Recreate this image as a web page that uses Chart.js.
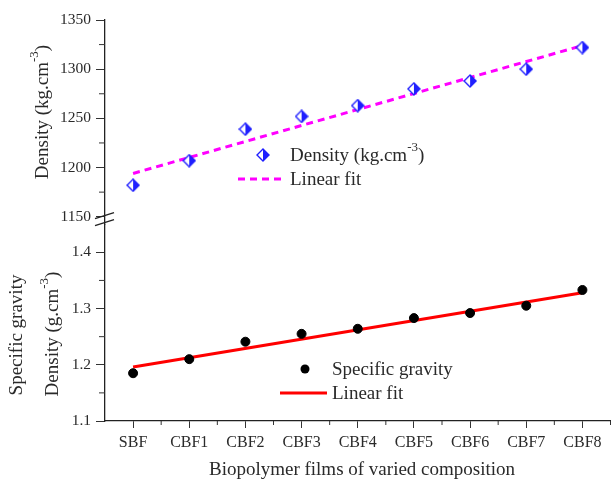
<!DOCTYPE html>
<html>
<head>
<meta charset="UTF-8">
<title>Density and specific gravity</title>
<script src="https://cdn.jsdelivr.net/npm/chart.js"></script>
<style>
  body { margin: 0; background: #fff; }
  #wrap { width: 616px; height: 486px; }
</style>
</head>
<body>
<div id="wrap"><canvas id="chart"></canvas></div>
<script>
// values
const films = ['SBF', 'CBF1', 'CBF2', 'CBF3', 'CBF4', 'CBF5', 'CBF6', 'CBF7', 'CBF8'];
const density = [1182, 1207, 1239, 1252, 1263, 1280, 1288, 1300, 1322];
const densityFit = [1194, 1324];       // fit line at SBF and CBF8
const gravity = [1.185, 1.210, 1.241, 1.255, 1.264, 1.283, 1.292, 1.305, 1.333];
const gravityFit = [1.196, 1.328];     // fit line at SBF and CBF8
const densityTicks = [1150, 1200, 1250, 1300, 1350];
const densityMinor = [1175, 1225, 1275, 1325];
const gravityTicks = [1.1, 1.2, 1.3, 1.4];
const gravityMinor = [1.15, 1.25, 1.35];

const FONT = 'Liberation Serif';
const BLUE = '#1f1fff';
Chart.defaults.font.family = FONT;
Chart.defaults.color = '#2a2a2a';

// half open / half filled diamond marker
function makeDiamond() {
  const c = document.createElement('canvas');
  c.width = 14; c.height = 14;
  const g = c.getContext('2d');
  g.lineWidth = 1.4;
  g.strokeStyle = BLUE;
  g.beginPath();
  g.moveTo(7, 1); g.lineTo(13, 7); g.lineTo(7, 13); g.lineTo(1, 7); g.closePath();
  g.fillStyle = '#fff'; g.fill(); g.stroke();
  g.beginPath();
  g.moveTo(7, 1); g.lineTo(13, 7); g.lineTo(7, 13); g.closePath();
  g.fillStyle = BLUE; g.fill();
  return c;
}
const diamond = makeDiamond();

function fitPoints(ends) {
  return [{x: films[0], y: ends[0]}, {x: films[films.length - 1], y: ends[1]}];
}

function line(ctx, x1, y1, x2, y2) {
  ctx.beginPath(); ctx.moveTo(x1, y1); ctx.lineTo(x2, y2); ctx.stroke();
}

// rotated axis title with a superscript part
function vTitle(ctx, cx, cy, main, sup, tail, size) {
  ctx.save();
  ctx.translate(cx, cy);
  ctx.rotate(-Math.PI / 2);
  ctx.textBaseline = 'middle';
  ctx.textAlign = 'left';
  ctx.font = size + 'px ' + FONT;
  const w1 = ctx.measureText(main).width;
  const w3 = ctx.measureText(tail).width;
  ctx.font = Math.round(size * 0.68) + 'px ' + FONT;
  const w2 = ctx.measureText(sup).width;
  let x = -(w1 + w2 + w3) / 2;
  ctx.font = size + 'px ' + FONT;
  ctx.fillText(main, x, 0);
  x += w1;
  ctx.font = Math.round(size * 0.68) + 'px ' + FONT;
  ctx.fillText(sup, x, -size * 0.42);
  x += w2;
  ctx.font = size + 'px ' + FONT;
  ctx.fillText(tail, x, 0);
  ctx.restore();
}

const decor = {
  id: 'decor',
  afterDraw(chart) {
    const {ctx, chartArea, scales} = chart;
    const left = chartArea.left, bottom = chartArea.bottom;
    ctx.save();
    ctx.strokeStyle = '#333';
    ctx.lineWidth = 1;
    // minor ticks
    densityMinor.forEach(v => { const y = scales.yD.getPixelForValue(v); line(ctx, left - 6, y, left, y); });
    gravityMinor.forEach(v => { const y = scales.yS.getPixelForValue(v); line(ctx, left - 6, y, left, y); });
    for (let i = 1; i <= films.length; i++) {
      const x = scales.x.getPixelForValue(i - 0.5);
      line(ctx, x, bottom, x, bottom + 4);
    }
    // axis break
    const yb = scales.yD.getPixelForValue(1150);
    ctx.lineWidth = 1.3;
    ctx.strokeStyle = '#222';
    line(ctx, left - 10, yb + 2, left + 9, yb - 4);
    line(ctx, left - 10, yb + 9, left + 9, yb + 3);

    // axis titles
    ctx.fillStyle = '#2a2a2a';
    vTitle(ctx, 43, 112, 'Density (kg.cm', '-3', ')', 19);
    vTitle(ctx, 17, 335, 'Specific gravity', '', '', 19);
    vTitle(ctx, 53, 334, 'Density (g.cm', '-3', ')', 19);

    // legends
    ctx.font = '19px ' + FONT;
    ctx.textBaseline = 'middle';
    ctx.textAlign = 'left';
    ctx.drawImage(diamond, 263 - 7, 155 - 7);
    ctx.fillText('Density (kg.cm', 290, 156);
    const wd = ctx.measureText('Density (kg.cm').width;
    ctx.font = '13px ' + FONT;
    ctx.fillText('-3', 290 + wd, 148);
    const ws = ctx.measureText('-3').width;
    ctx.font = '19px ' + FONT;
    ctx.fillText(')', 290 + wd + ws, 156);
    ctx.fillText('Linear fit', 290, 180);
    ctx.strokeStyle = '#ff00ff';
    ctx.lineWidth = 3;
    ctx.setLineDash([7, 5]);
    line(ctx, 238, 179, 286, 179);
    ctx.setLineDash([]);

    ctx.fillStyle = '#000';
    ctx.beginPath(); ctx.arc(305, 369, 4.5, 0, Math.PI * 2); ctx.fill();
    ctx.fillStyle = '#2a2a2a';
    ctx.fillText('Specific gravity', 332, 370);
    ctx.fillText('Linear fit', 332, 394);
    ctx.strokeStyle = '#ff0000';
    line(ctx, 280, 393, 327, 393);

    // x title
    ctx.textAlign = 'center';
    ctx.fillText('Biopolymer films of varied composition', 362, 470);
    ctx.restore();
  }
};

const yTickFont = {family: FONT, size: 15.5};

new Chart(document.getElementById('chart').getContext('2d'), {
  type: 'line',
  data: {
    labels: films,
    datasets: [
      {
        label: 'Density (kg.cm-3)', data: density, yAxisID: 'yD', showLine: false,
        pointStyle: diamond, order: 0
      },
      {
        label: 'Linear fit', data: fitPoints(densityFit), yAxisID: 'yD',
        borderColor: '#ff00ff', borderWidth: 3, borderDash: [7, 5], pointRadius: 0, order: 1
      },
      {
        label: 'Specific gravity', data: gravity, yAxisID: 'yS', showLine: false,
        pointRadius: 4.5, pointBackgroundColor: '#000', pointBorderColor: '#000', order: 0
      },
      {
        label: 'Linear fit', data: fitPoints(gravityFit), yAxisID: 'yS',
        borderColor: '#ff0000', borderWidth: 3, pointRadius: 0, order: 1
      }
    ]
  },
  options: {
    responsive: true,
    maintainAspectRatio: false,
    animation: false,
    devicePixelRatio: 1,
    layout: {padding: {top: 20, right: 1, left: 0, bottom: 0}},
    plugins: {legend: {display: false}, tooltip: {enabled: false}},
    scales: {
      x: {
        type: 'category',
        offset: true,
        grid: {display: true, drawOnChartArea: false, offset: false, tickLength: 7, color: '#333'},
        border: {color: '#222', width: 1.3},
        ticks: {font: {family: FONT, size: 16}, padding: 5, maxRotation: 0, autoSkip: false},
        afterFit(s) { s.height = 65; }
      },
      yS: {
        type: 'linear',
        position: 'left',
        stack: 'y',
        stackWeight: 196.8,
        min: 1.1,
        max: 1.45,
        afterBuildTicks(s) { s.ticks = gravityTicks.map(v => ({value: v})); },
        grid: {display: true, drawOnChartArea: false, tickLength: 9, color: '#333'},
        border: {color: '#222', width: 1.3},
        ticks: {font: yTickFont, padding: 5, callback: v => v.toFixed(1)},
        afterFit(s) { s.width = 105; }
      },
      yD: {
        type: 'linear',
        position: 'left',
        stack: 'y',
        stackWeight: 204.2,
        min: 1142.4,
        max: 1350,
        afterBuildTicks(s) { s.ticks = densityTicks.map(v => ({value: v})); },
        grid: {display: true, drawOnChartArea: false, tickLength: 9, color: '#333'},
        border: {color: '#222', width: 1.3},
        ticks: {font: yTickFont, padding: 5, callback: v => String(v)},
        afterFit(s) { s.width = 105; }
      }
    }
  },
  plugins: [decor]
});
</script>
</body>
</html>
